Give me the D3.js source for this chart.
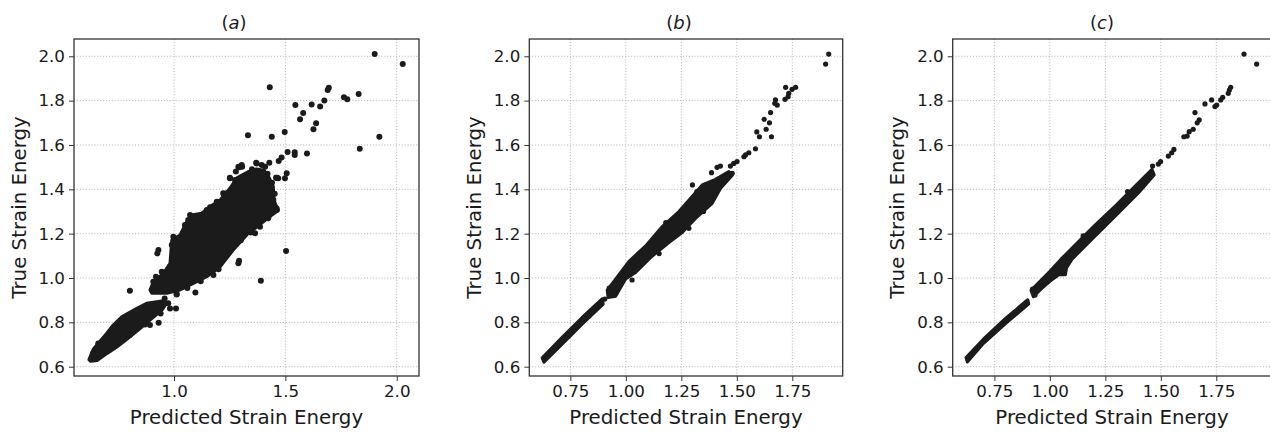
<!DOCTYPE html>
<html>
<head>
<meta charset="utf-8">
<script src="https://cdn.jsdelivr.net/npm/d3@7"></script>
<style>
  body { margin: 0; background: #fff; }
  svg { display: block; font-family: "DejaVu Sans", sans-serif; }
</style>
</head>
<body>
<svg id="chart" width="1270" height="433"></svg>
<script>
// tick values
var yTicks = [0.6, 0.8, 1.0, 1.2, 1.4, 1.6, 1.8, 2.0];
var xTicksA = [1.0, 1.5, 2.0];
var xTicksBC = [0.75, 1.00, 1.25, 1.50, 1.75];
var titles = ['a', 'b', 'c'];

// isolated points, [predicted, true]
var pointsA = [
  [1.901,2.010],[2.027,1.965],[1.430,1.860],[1.695,1.858],[1.690,1.848],[1.763,1.815],[1.778,1.806],
  [1.829,1.830],[1.675,1.801],[1.656,1.774],[1.618,1.783],[1.545,1.780],[1.580,1.744],[1.566,1.716],
  [1.638,1.698],[1.626,1.671],[1.332,1.644],[1.439,1.637],[1.497,1.659],[1.922,1.637],[1.834,1.583],
  [1.597,1.561],[1.542,1.567],[1.542,1.555],[1.510,1.568],[1.483,1.544],[1.470,1.528],[1.506,1.472],
  [1.428,1.520],[1.394,1.510],[1.369,1.520],[1.462,1.452],[1.458,1.452],[1.294,1.499],[1.306,1.502],
  [1.251,1.452],[1.223,1.380],[1.278,1.480],[1.461,1.307],[1.423,1.274],[1.503,1.122],[1.390,0.988],
  [1.292,1.078],[0.802,0.943],[1.096,0.935],[1.009,0.863],[0.982,0.863],[0.931,0.798],[0.930,1.126],
  [0.925,1.111],[1.012,0.926],[1.177,1.014],[1.169,1.033],[1.012,0.928],[0.974,0.886],[0.892,0.788],
  [1.064,1.262],[1.072,1.284],[1.162,1.319],[1.221,1.382],[1.251,1.450],[1.289,1.502],[1.304,1.510],
  [1.311,1.457],[1.371,1.517],[1.409,1.502],[1.177,1.036],[1.266,1.141],[1.237,1.111],[1.461,1.314],
  [1.446,1.352],[1.423,1.269],[1.401,1.337],[1.431,1.389],[1.468,1.450],[1.498,1.450],[1.386,1.231],
  [1.364,1.202],[1.289,1.066],
  [0.907,0.983],[0.919,1.006],[0.945,1.028],[0.982,1.051],[0.990,1.149],[0.997,1.186],[1.049,1.239],
  [1.087,1.277],[1.147,1.307],[1.192,1.344],[1.237,1.382],[1.274,1.442],[0.958,0.908],[0.905,0.872],
  [0.850,0.836],[0.790,0.800],[0.720,0.760],[0.660,0.705],[0.636,0.660],[0.940,0.840],[0.870,0.790],
  [0.800,0.742],[0.730,0.690],[1.120,0.985],[1.060,0.955],[1.200,1.040],[1.300,1.170],[1.345,1.205],
  [1.440,1.430],[1.452,1.380],[1.420,1.470],[1.350,1.490]
];
var pointsB = [
  [1.914,2.010],[1.900,1.965],[1.765,1.860],[1.749,1.851],[1.734,1.833],[1.720,1.860],[1.717,1.806],
  [1.731,1.818],[1.674,1.803],[1.682,1.780],[1.671,1.788],[1.652,1.746],[1.623,1.716],[1.647,1.700],
  [1.632,1.671],[1.656,1.637],[1.590,1.659],[1.602,1.637],[1.584,1.583],[1.554,1.565],[1.539,1.555],
  [1.532,1.547],[1.501,1.525],[1.486,1.517],[1.471,1.505],[1.426,1.505],[1.411,1.499],[1.386,1.475],
  [1.479,1.472],[1.456,1.457],[1.284,1.224],[1.028,0.991],[0.946,0.923],[0.925,0.955],[1.060,1.110],
  [1.180,1.250],[1.320,1.390],[1.350,1.300],[1.150,1.110],[1.300,1.420],[0.905,0.905]
];
var pointsC = [
  [1.875,2.010],[1.932,1.965],[1.815,1.860],[1.809,1.848],[1.804,1.833],[1.779,1.815],[1.770,1.803],
  [1.752,1.780],[1.744,1.773],[1.729,1.803],[1.699,1.785],[1.654,1.746],[1.673,1.713],[1.664,1.700],
  [1.646,1.671],[1.628,1.660],[1.619,1.640],[1.604,1.637],[1.559,1.580],[1.549,1.565],[1.534,1.550],
  [1.499,1.525],[1.489,1.514],[1.463,1.505],[0.933,0.923],[0.922,0.950],[1.150,1.190],[1.350,1.390]
];

// outlines of the dense, fully overlapped part of each cloud
var cloudA = [
  [[0.892,0.946],[0.907,0.983],[0.952,1.021],[0.982,1.066],[0.990,1.171],[1.027,1.194],[1.057,1.254],
   [1.079,1.284],[1.124,1.292],[1.162,1.322],[1.207,1.352],[1.251,1.405],[1.282,1.452],[1.330,1.478],
   [1.370,1.492],[1.405,1.486],[1.428,1.452],[1.446,1.412],[1.449,1.352],[1.468,1.304],[1.431,1.277],
   [1.356,1.217],[1.334,1.202],[1.266,1.126],[1.207,1.051],[1.147,1.006],[1.087,0.976],[1.027,0.946],
   [0.967,0.931],[0.900,0.931]],
  [[0.618,0.632],[0.638,0.680],[0.698,0.751],[0.727,0.788],[0.765,0.825],[0.833,0.863],[0.877,0.886],
   [0.922,0.893],[0.952,0.898],[0.964,0.883],[0.950,0.860],[0.907,0.822],[0.845,0.770],[0.790,0.725],
   [0.745,0.690],[0.700,0.660],[0.655,0.628],[0.626,0.624]]
];
var cloudB = [
  [[0.623,0.640],[0.713,0.732],[0.803,0.822],[0.893,0.906],[0.898,0.882],[0.803,0.792],[0.713,0.702],
   [0.631,0.620]],
  [[0.916,0.945],[1.014,1.075],[1.089,1.145],[1.164,1.232],[1.239,1.300],[1.344,1.420],[1.404,1.445],
   [1.464,1.480],[1.479,1.462],[1.427,1.405],[1.389,1.337],[1.314,1.269],[1.254,1.205],[1.194,1.160],
   [1.118,1.098],[1.044,1.025],[0.999,0.995],[0.954,0.918],[0.920,0.912]]
];
var cloudC = [
  [[0.622,0.641],[0.700,0.724],[0.800,0.818],[0.900,0.902],[0.905,0.883],[0.800,0.794],[0.700,0.704],
   [0.628,0.621]],
  [[0.915,0.945],[1.000,1.030],[1.050,1.085],[1.100,1.135],[1.200,1.235],[1.300,1.330],[1.400,1.430],
   [1.460,1.490],[1.470,1.465],[1.400,1.385],[1.300,1.285],[1.200,1.185],[1.100,1.085],[1.075,1.045],
   [1.070,1.015],[1.040,1.015],[1.000,0.985],[0.960,0.950],[0.925,0.916]]
];

var svg = d3.select('#chart');
var plotTop = 39, plotBottom = 376;
var ink = '#1b1b1b';

function drawPanel(p) {
  var x = d3.scaleLinear().domain(p.xDomain).range([p.left, p.right]);
  var y = d3.scaleLinear().domain([0.558, 2.078]).range([plotBottom, plotTop]);
  var g = svg.append('g');

  // grid
  g.selectAll('.gx').data(p.xTicks).enter().append('line')
    .attr('x1', function(d) { return x(d); }).attr('x2', function(d) { return x(d); })
    .attr('y1', plotTop).attr('y2', plotBottom)
    .attr('stroke', '#b0b0b0').attr('stroke-width', 0.9).attr('stroke-dasharray', '1.1,1.8');
  g.selectAll('.gy').data(yTicks).enter().append('line')
    .attr('x1', p.left).attr('x2', p.right)
    .attr('y1', function(d) { return y(d); }).attr('y2', function(d) { return y(d); })
    .attr('stroke', '#b0b0b0').attr('stroke-width', 0.9).attr('stroke-dasharray', '1.1,1.8');

  // dense clouds
  var line = d3.line().x(function(d) { return x(d[0]); }).y(function(d) { return y(d[1]); })
    .curve(d3.curveLinearClosed);
  g.selectAll('.cloud').data(p.clouds).enter().append('path')
    .attr('d', line)
    .attr('fill', ink).attr('stroke', ink).attr('stroke-width', 3).attr('stroke-linejoin', 'round');

  // points
  g.selectAll('.pt').data(p.points).enter().append('circle')
    .attr('cx', function(d) { return x(d[0]); })
    .attr('cy', function(d) { return y(d[1]); })
    .attr('r', p.r).attr('fill', ink);

  // frame
  g.append('rect').attr('x', p.left).attr('y', plotTop)
    .attr('width', p.right - p.left).attr('height', plotBottom - plotTop)
    .attr('fill', 'none').attr('stroke', '#333').attr('stroke-width', 1.3);

  // axes
  var ax = g.append('g').attr('transform', 'translate(0,' + plotBottom + ')')
    .call(d3.axisBottom(x).tickValues(p.xTicks).tickFormat(d3.format(p.fmt)).tickSize(5).tickPadding(4));
  var ay = g.append('g').attr('transform', 'translate(' + p.left + ',0)')
    .call(d3.axisLeft(y).tickValues(yTicks).tickFormat(d3.format('.1f')).tickSize(5).tickPadding(4));
  [ax, ay].forEach(function(a) {
    a.select('.domain').remove();
    a.selectAll('line').attr('stroke', '#333');
    a.selectAll('text').attr('fill', '#1a1a1a').style('font-size', '16.7px')
      .style('font-family', '"DejaVu Sans", sans-serif');
  });

  // labels
  g.append('text').attr('x', (p.left + p.right) / 2).attr('y', 424)
    .attr('text-anchor', 'middle').attr('fill', '#1a1a1a').style('font-size', '19.8px')
    .text('Predicted Strain Energy');
  g.append('text').attr('transform', 'translate(' + p.ylabelX + ',' + (plotTop + plotBottom) / 2 + ') rotate(-90)')
    .attr('text-anchor', 'middle').attr('fill', '#1a1a1a').style('font-size', '19.8px')
    .text('True Strain Energy');
  var t = g.append('text').attr('x', p.titleX).attr('y', 29)
    .attr('text-anchor', 'middle').attr('fill', '#1a1a1a').style('font-size', '18px');
  t.append('tspan').text('(');
  t.append('tspan').style('font-style', 'italic').text(p.title);
  t.append('tspan').text(')');
}

drawPanel({ left: 74, right: 419, xDomain: [0.551, 2.100], xTicks: xTicksA, fmt: '.1f',
  points: pointsA, clouds: cloudA, r: 3, ylabelX: 26, titleX: 234, title: titles[0] });
drawPanel({ left: 529.3, right: 842.7, xDomain: [0.565, 1.977], xTicks: xTicksBC, fmt: '.2f',
  points: pointsB, clouds: cloudB, r: 2.6, ylabelX: 481, titleX: 679, title: titles[1] });
drawPanel({ left: 952.7, right: 1271.3, xDomain: [0.562, 1.998], xTicks: xTicksBC, fmt: '.2f',
  points: pointsC, clouds: cloudC, r: 2.6, ylabelX: 903.7, titleX: 1102, title: titles[2] });
</script>
</body>
</html>
